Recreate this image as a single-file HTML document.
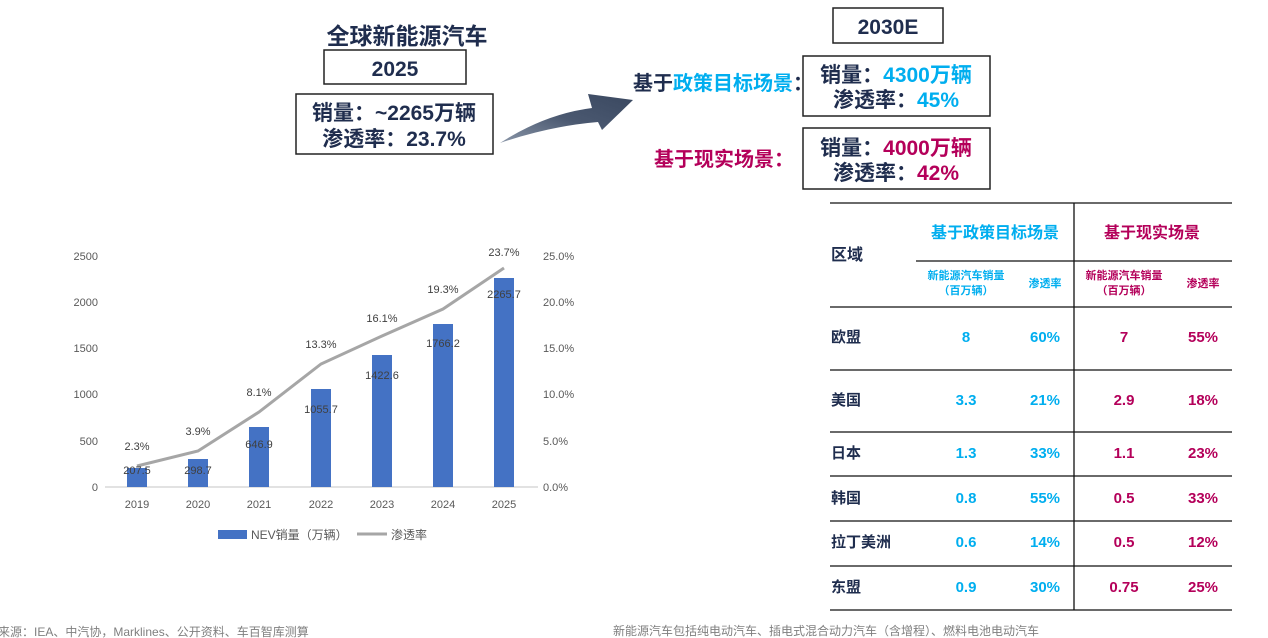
<!DOCTYPE html>
<html><head><meta charset="utf-8"><style>
body{margin:0;width:1268px;height:638px;background:#fff;overflow:hidden;font-family:"Liberation Sans","Noto Sans CJK SC",sans-serif}
svg{position:absolute;left:0;top:0}
</style></head><body>
<svg width="1268" height="638" viewBox="0 0 1268 638" font-family="Liberation Sans, Noto Sans CJK SC, sans-serif">
<defs><linearGradient id="ag" x1="0" y1="1" x2="1" y2="0"><stop offset="0" stop-color="#8a96a8"/><stop offset="0.5" stop-color="#4a5870"/><stop offset="1" stop-color="#3a4860"/></linearGradient></defs>
<text x="407" y="44" text-anchor="middle" font-size="23" font-weight="bold" fill="#1f2d4e">全球新能源汽车</text>
<rect x="324" y="50" width="142" height="34" fill="#fff" stroke="#222" stroke-width="1.5"/>
<text x="395" y="76" text-anchor="middle" font-size="21" font-weight="bold" fill="#1f2d4e">2025</text>
<rect x="296" y="94" width="197" height="60" fill="#fff" stroke="#222" stroke-width="1.5"/>
<text x="394" y="120" text-anchor="middle" font-size="21" font-weight="bold" fill="#1f2d4e">销量：~2265万辆</text>
<text x="394" y="146" text-anchor="middle" font-size="21" font-weight="bold" fill="#1f2d4e">渗透率：23.7%</text>
<path d="M500 143 Q545 114 592 108 L588 94 L633 100 L602 130 L598 122 Q550 126 500 143 Z" fill="url(#ag)"/>
<rect x="833" y="8" width="110" height="35" fill="#fff" stroke="#222" stroke-width="1.5"/>
<text x="888" y="34" text-anchor="middle" font-size="21" font-weight="bold" fill="#1f2d4e">2030E</text>
<text x="633" y="90" font-size="20" font-weight="bold" fill="#1f2d4e">基于<tspan fill="#00aeef">政策目标场景</tspan>：</text>
<rect x="803" y="56" width="187" height="60" fill="#fff" stroke="#222" stroke-width="1.5"/>
<text x="896" y="82" text-anchor="middle" font-size="21" font-weight="bold" fill="#1f2d4e">销量：<tspan fill="#00aeef">4300万辆</tspan></text>
<text x="896" y="107" text-anchor="middle" font-size="21" font-weight="bold" fill="#1f2d4e">渗透率：<tspan fill="#00aeef">45%</tspan></text>
<text x="654" y="166" font-size="20" font-weight="bold" fill="#b4005a">基于现实场景：</text>
<rect x="803" y="128" width="187" height="61" fill="#fff" stroke="#222" stroke-width="1.5"/>
<text x="896" y="155" text-anchor="middle" font-size="21" font-weight="bold" fill="#1f2d4e">销量：<tspan fill="#b4005a">4000万辆</tspan></text>
<text x="896" y="180" text-anchor="middle" font-size="21" font-weight="bold" fill="#1f2d4e">渗透率：<tspan fill="#b4005a">42%</tspan></text>
<g font-size="11" fill="#595959">
<text x="98" y="260" text-anchor="end">2500</text><text x="98" y="306" text-anchor="end">2000</text><text x="98" y="352" text-anchor="end">1500</text><text x="98" y="398" text-anchor="end">1000</text><text x="98" y="445" text-anchor="end">500</text><text x="98" y="491" text-anchor="end">0</text>
<text x="543" y="260">25.0%</text><text x="543" y="306">20.0%</text><text x="543" y="352">15.0%</text><text x="543" y="398">10.0%</text><text x="543" y="445">5.0%</text><text x="543" y="491">0.0%</text>
</g>
<line x1="105" y1="487" x2="538" y2="487" stroke="#d9d9d9" stroke-width="1.5"/>
<g fill="#4472c4">
<rect x="127" y="468" width="20" height="19"/><rect x="188" y="459" width="20" height="28"/><rect x="249" y="427" width="20" height="60"/><rect x="311" y="389" width="20" height="98"/><rect x="372" y="355" width="20" height="132"/><rect x="433" y="324" width="20" height="163"/><rect x="494" y="278" width="20" height="209"/>
</g>
<polyline points="137,466 198,451 259,412 321,364 382,336 443,309 504,268" fill="none" stroke="#a6a6a6" stroke-width="3"/>
<g font-size="11" fill="#404040" text-anchor="middle">
<text x="137" y="474">207.5</text><text x="198" y="474">298.7</text><text x="259" y="448">646.9</text><text x="321" y="413">1055.7</text><text x="382" y="379">1422.6</text><text x="443" y="347">1766.2</text><text x="504" y="298">2265.7</text>
<text x="137" y="450">2.3%</text><text x="198" y="435">3.9%</text><text x="259" y="396">8.1%</text><text x="321" y="348">13.3%</text><text x="382" y="322">16.1%</text><text x="443" y="293">19.3%</text><text x="504" y="256">23.7%</text>
</g>
<g font-size="11" fill="#595959" text-anchor="middle">
<text x="137" y="508">2019</text><text x="198" y="508">2020</text><text x="259" y="508">2021</text><text x="321" y="508">2022</text><text x="382" y="508">2023</text><text x="443" y="508">2024</text><text x="504" y="508">2025</text>
</g>
<rect x="218" y="530" width="29" height="9" fill="#4472c4"/>
<text x="251" y="539" font-size="12" fill="#595959">NEV销量（万辆）</text>
<line x1="357" y1="534" x2="387" y2="534" stroke="#a6a6a6" stroke-width="3"/>
<text x="391" y="539" font-size="12" fill="#595959">渗透率</text>
<g stroke="#111" stroke-width="1.3">
<line x1="830" y1="203" x2="1232" y2="203"/><line x1="916" y1="261" x2="1232" y2="261"/>
<line x1="830" y1="307" x2="1232" y2="307"/><line x1="830" y1="370" x2="1232" y2="370"/>
<line x1="830" y1="432" x2="1232" y2="432"/><line x1="830" y1="476" x2="1232" y2="476"/>
<line x1="830" y1="521" x2="1232" y2="521"/><line x1="830" y1="566" x2="1232" y2="566"/>
<line x1="830" y1="610" x2="1232" y2="610"/><line x1="1074" y1="203" x2="1074" y2="610"/>
</g>
<text x="831" y="260" font-size="16" font-weight="bold" fill="#1f2d4e">区域</text>
<text x="995" y="238" text-anchor="middle" font-size="16" font-weight="bold" fill="#00aeef">基于政策目标场景</text>
<text x="1152" y="238" text-anchor="middle" font-size="16" font-weight="bold" fill="#b4005a">基于现实场景</text>
<g font-size="11" font-weight="bold" text-anchor="middle">
<text x="966" y="279" fill="#00aeef">新能源汽车销量</text><text x="966" y="294" fill="#00aeef">（百万辆）</text><text x="1045" y="287" fill="#00aeef">渗透率</text>
<text x="1124" y="279" fill="#b4005a">新能源汽车销量</text><text x="1124" y="294" fill="#b4005a">（百万辆）</text><text x="1203" y="287" fill="#b4005a">渗透率</text>
</g>
<g font-size="15" font-weight="bold">
<g fill="#1f2d4e"><text x="831" y="342">欧盟</text><text x="831" y="405">美国</text><text x="831" y="458">日本</text><text x="831" y="503">韩国</text><text x="831" y="547">拉丁美洲</text><text x="831" y="592">东盟</text></g>
<g fill="#00aeef" text-anchor="middle">
<text x="966" y="342">8</text><text x="1045" y="342">60%</text><text x="966" y="405">3.3</text><text x="1045" y="405">21%</text><text x="966" y="458">1.3</text><text x="1045" y="458">33%</text><text x="966" y="503">0.8</text><text x="1045" y="503">55%</text><text x="966" y="547">0.6</text><text x="1045" y="547">14%</text><text x="966" y="592">0.9</text><text x="1045" y="592">30%</text></g>
<g fill="#b4005a" text-anchor="middle">
<text x="1124" y="342">7</text><text x="1203" y="342">55%</text><text x="1124" y="405">2.9</text><text x="1203" y="405">18%</text><text x="1124" y="458">1.1</text><text x="1203" y="458">23%</text><text x="1124" y="503">0.5</text><text x="1203" y="503">33%</text><text x="1124" y="547">0.5</text><text x="1203" y="547">12%</text><text x="1124" y="592">0.75</text><text x="1203" y="592">25%</text></g>
</g>
<text x="-2" y="636" font-size="12" fill="#7f7f7f">来源：IEA、中汽协，Marklines、公开资料、车百智库测算</text>
<text x="613" y="635" font-size="12" fill="#7f7f7f">新能源汽车包括纯电动汽车、插电式混合动力汽车（含增程）、燃料电池电动汽车</text>
</svg>
</body></html>
